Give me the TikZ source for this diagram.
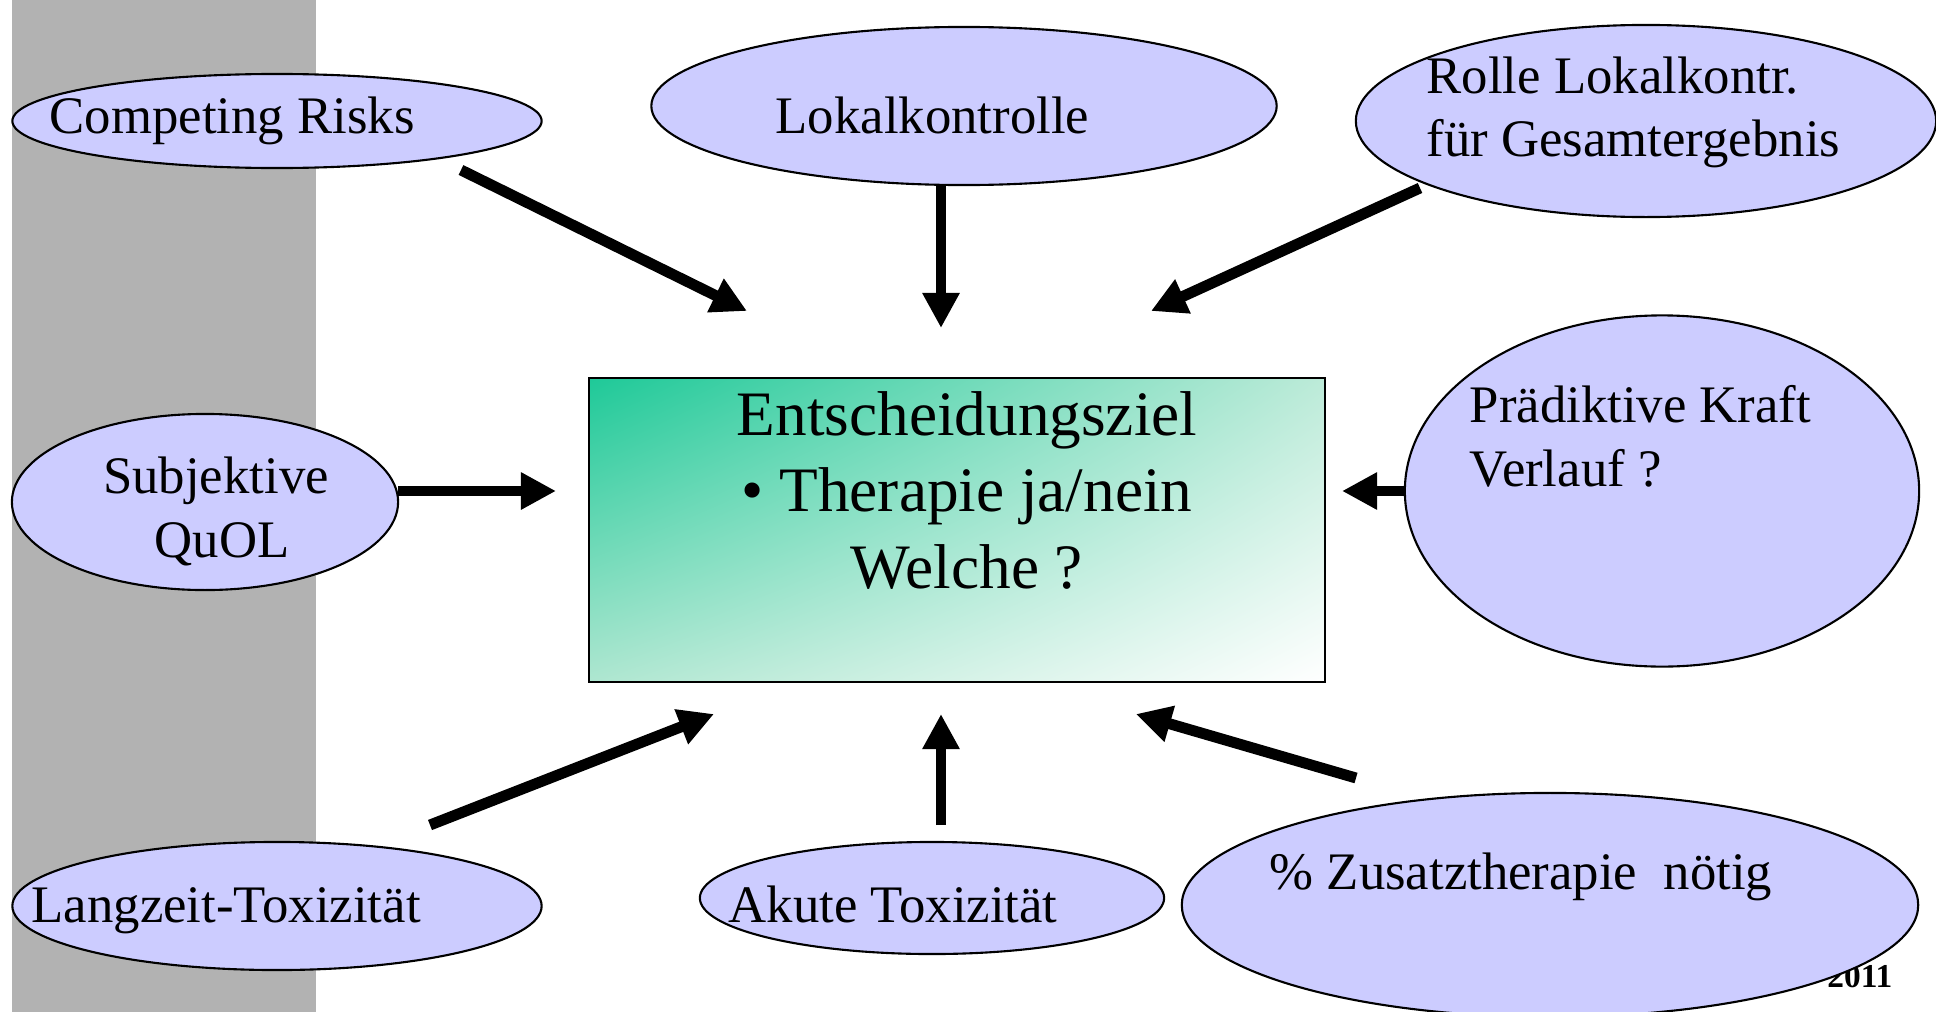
\documentclass[tikz,border=0pt]{standalone}
\usepackage{fontspec}
\setmainfont{Liberation Serif}
\usetikzlibrary{arrows.meta,shapes.geometric,shadings}
\definecolor{lav}{RGB}{204,204,255}
\definecolor{band}{RGB}{178,178,178}
\definecolor{tealA}{RGB}{30,201,152}
\definecolor{tealM}{RGB}{160,226,200}
\begin{document}
\begin{tikzpicture}[x=0.01cm,y=-0.01cm,
  bub/.style={ellipse, draw, fill=lav, line width=0.6pt, inner sep=0pt},
  lbl/.style={font=\fontsize{15}{18}\selectfont, inner sep=0pt},
  lblw/.style={lbl, anchor=base west},
  lblc/.style={lbl, anchor=base},
  big/.style={font=\fontsize{18}{22}\selectfont, inner sep=0pt, anchor=base},
  arr/.style={line width=3.1pt, -{Triangle[length=10pt,width=10pt]}}]
\useasboundingbox (0,0) rectangle (1936,1012);
\clip (0,0) rectangle (1936,1012);
% grey band
\fill[band] (12,0) rectangle (316,1012);
% footer text (mostly hidden)
\node[font=\bfseries\fontsize{9.5}{11}\selectfont, inner sep=0pt, anchor=base east] (yr) at (1893,987) {2011};
% ellipses
\node[bub, minimum width=5.29cm, minimum height=0.94cm] (cr) at (277,121) {};
\node[bub, minimum width=6.25cm, minimum height=1.58cm] (lk) at (964,106) {};
\node[bub, minimum width=5.80cm, minimum height=1.92cm] (rl) at (1646,121) {};
\node[bub, minimum width=3.86cm, minimum height=1.76cm] (sq) at (205,502) {};
\node[bub, minimum width=5.14cm, minimum height=3.51cm] (pk) at (1662,491) {};
\node[bub, minimum width=5.29cm, minimum height=1.28cm] (lt) at (277,906) {};
\node[bub, minimum width=4.64cm, minimum height=1.12cm] (at) at (932,898) {};
\node[bub, minimum width=7.36cm, minimum height=2.24cm] (zt) at (1550,905) {};
% central box
\node[draw, line width=0.6pt, minimum width=7.36cm, minimum height=3.04cm,
      upper left=tealA, lower right=white, upper right=tealM!70!white, lower left=tealM!85!white]
      (box) at (957,530) {};
% texts
\node[lblw] (tcr) at (49,133) {Competing Risks};
\node[lblw] (tlk) at (775,133) {Lokalkontrolle};
\node[lblw] (trl1) at (1426,93) {Rolle Lokalkontr.};
\node[lblw] (trl2) at (1426,156) {für Gesamtergebnis};
\node[lblc] (tsq1) at (216,493) {Subjektive};
\node[lblc] (tsq2) at (222,557) {QuOL};
\node[lblw] (tpk1) at (1469,422) {Prädiktive Kraft};
\node[lblw] (tpk2) at (1469,486) {Verlauf ?};
\node[lblw] (tlt) at (31,922) {Langzeit-Toxizität};
\node[lblw] (tat) at (728,922) {Akute Toxizität};
\node[lblw] (tzt) at (1269,889) {\%~Zusatztherapie~~nötig};
\node[big] (b1) at (967,435) {Entscheidungsziel};
\node[big] (b2) at (967,511) {•~Therapie ja/nein};
\node[big] (b3) at (967,588) {Welche ?};
% arrow end points
\coordinate (a1s) at (461,170);  \coordinate (a1e) at (747,311);
\coordinate (a2s) at (941,185);  \coordinate (a2e) at (941,328);
\coordinate (a3s) at (1420,188); \coordinate (a3e) at (1151,311);
\coordinate (a4s) at (398,491);  \coordinate (a4e) at (556,491);
\coordinate (a5s) at (1405,491); \coordinate (a5e) at (1342,491);
\coordinate (a6s) at (430,825);  \coordinate (a6e) at (714,714);
\coordinate (a7s) at (941,825);  \coordinate (a7e) at (941,714);
\coordinate (a8s) at (1356,778); \coordinate (a8e) at (1136,714);
\draw[arr] (a1s) -- (a1e);
\draw[arr] (a2s) -- (a2e);
\draw[arr] (a3s) -- (a3e);
\draw[arr] (a4s) -- (a4e);
\draw[arr] (a5s) -- (a5e);
\draw[arr] (a6s) -- (a6e);
\draw[arr] (a7s) -- (a7e);
\draw[arr] (a8s) -- (a8e);
\end{tikzpicture}
\end{document}
